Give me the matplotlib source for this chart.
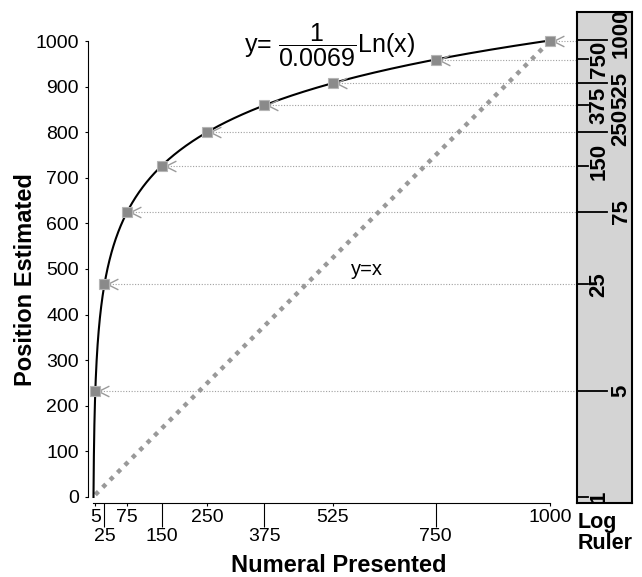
import numpy as np
import matplotlib.pyplot as plt
from matplotlib.path import Path

plt.rcParams['font.family'] = ['Liberation Sans', 'DejaVu Sans']
plt.rcParams['mathtext.fontset'] = 'custom'
plt.rcParams['mathtext.rm'] = 'Liberation Sans'
plt.rcParams['mathtext.it'] = 'Liberation Sans:italic'

# data
presented = [5, 25, 75, 150, 250, 375, 525, 750, 1000]
estimated = [233, 466, 626, 726, 800, 859, 908, 959, 1000]
slope = 0.0069
ruler_labels = [1, 5, 25, 75, 150, 250, 375, 525, 750, 1000]
y_ticks = [0, 100, 200, 300, 400, 500, 600, 700, 800, 900, 1000]
x_upper = [5, 75, 250, 525, 1000]
x_lower = [25, 150, 375, 750]

fig = plt.figure(figsize=(6.42, 5.77), dpi=100)
ax = fig.add_axes([88/642, 74/577, 489/642, 491/577])
ax.set_xlim(-11, 1059)
ax.set_ylim(-13.2, 1063.6)

# fitted log curve
xs = np.geomspace(1, 1000, 600)
ax.plot(xs, np.log(xs) / slope, color='black', lw=1.5, zorder=3)

# y = x reference
ax.plot([presented[0], presented[-1]], [presented[0], presented[-1]],
        color='#999999', lw=3.2, ls=(0, (1, 1.35)), zorder=2)

# dotted guide lines to the ruler
for xv, yv in zip(presented, estimated):
    ax.plot([xv, 1059], [yv, yv], color='#a0a0a0', lw=0.8,
            ls=(0, (1, 1.5)), clip_on=False, zorder=1)

chevron = Path([(1.3, 0.5), (0.3, 0), (1.3, -0.5)],
               [Path.MOVETO, Path.LINETO, Path.LINETO])
ax.plot(presented, estimated, ls='none', marker=chevron, ms=20,
        mfc='none', mec='#9a9a9a', mew=1.0, zorder=4)
ax.plot(presented, estimated, 's', ms=6.5, mfc='#8a8a8a', mec='#b5b5b5',
        mew=0.8, zorder=5)

ax.text(600, 498, 'y=x', fontsize=14.5, ha='center', va='center')
ax.text(517, 991, r'y= $\dfrac{1}{0.0069}$Ln(x)', fontsize=18,
        ha='center', va='center')

for s in ['top', 'right']:
    ax.spines[s].set_visible(False)
ax.spines['left'].set_bounds(0, 1000)
ax.spines['bottom'].set_bounds(0, 1000)

ax.set_yticks(y_ticks)
ax.tick_params(axis='y', direction='out', length=2.5, width=0.8,
               labelsize=14, pad=4)
ax.set_xticks(x_upper, labels=[str(v) for v in x_upper])
ax.set_xticks(x_lower, labels=[str(v) for v in x_lower], minor=True)
ax.tick_params(axis='x', which='major', length=2.5, width=0.8,
               labelsize=14, pad=1.5)
ax.tick_params(axis='x', which='minor', length=17, width=0.8,
               labelsize=14, pad=1)

fig.text(339/642, 1 - 565/577, 'Numeral Presented', ha='center',
         va='center', fontsize=17, weight='bold')
fig.text(26/642, 1 - 280/577, 'Position Estimated', ha='center',
         va='center', rotation=90, fontsize=17, weight='bold')
fig.text(578/642, 1 - 512/577, 'Log\nRuler', ha='left', va='top',
         fontsize=15.5, weight='bold', linespacing=1.0)

# log ruler
rax = fig.add_axes([577/642, 74/577, 55/642, 491/577])
rax.set_facecolor('#d4d4d4')
rax.set_xlim(0, 1)
rax.set_ylim(-13.2, 1063.6)
rax.set_xticks([])
rax.set_yticks([])
for s in rax.spines.values():
    s.set_linewidth(1.5)
nudge = {1000: 5, 525: -5, 250: 3, 150: 3.5}
for i, v in enumerate(ruler_labels):
    yv = np.log(v) / slope
    long_tick = i % 2 == 1
    rax.plot([0, 0.55 if long_tick else 0.2], [yv, yv], color='black',
             lw=1.3)
    rax.annotate(str(v), xy=(0.8 if long_tick else 0.4, yv),
                 xytext=(0, nudge.get(v, 0)), textcoords='offset points',
                 rotation=90, ha='center', va='center', fontsize=16,
                 weight='bold',
                 family=['Liberation Sans Narrow', 'Liberation Sans'])

fig.savefig('out.png', dpi=100)
